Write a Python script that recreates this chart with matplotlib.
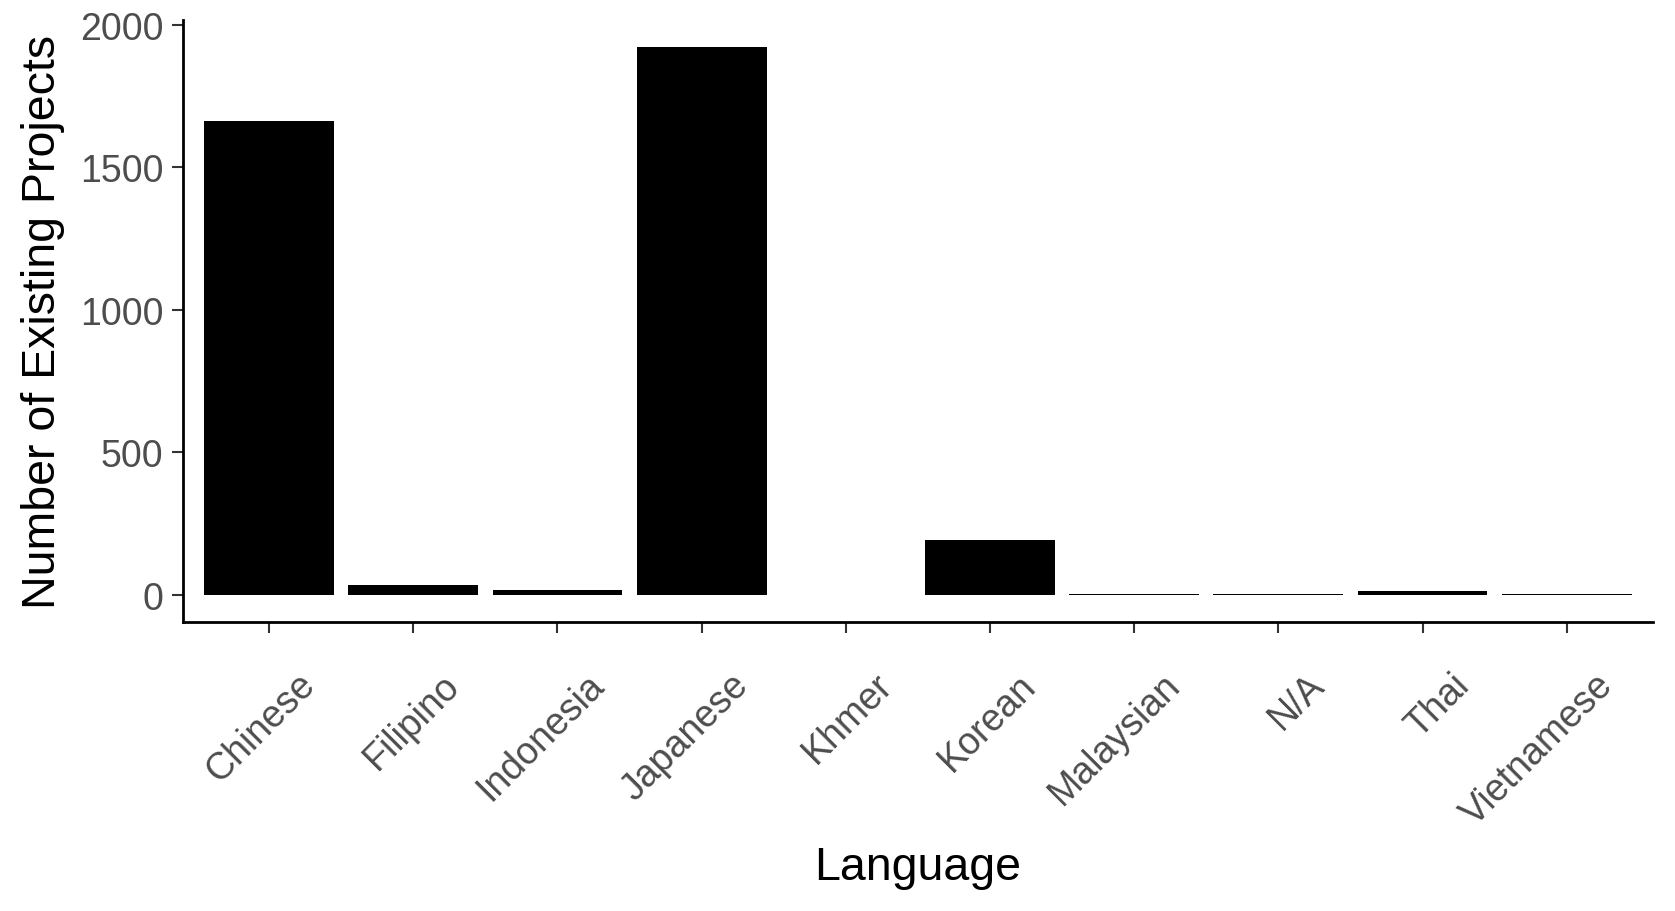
import numpy as np
import matplotlib.pyplot as plt
from matplotlib.transforms import ScaledTranslation

plt.rcParams['font.family'] = ['Liberation Sans', 'DejaVu Sans']

languages = ["Chinese", "Filipino", "Indonesia", "Japanese", "Khmer",
             "Korean", "Malaysian", "N/A", "Thai", "Vietnamese"]
projects = [1664, 35, 17, 1922, 0, 193, 3, 3, 13, 3]

fig = plt.figure(figsize=(16.75, 9.12), dpi=100)
ax = fig.add_axes([0.109, 0.317, 0.878, 0.66])

x = np.arange(1, len(languages) + 1)
ax.bar(x, projects, width=0.9, color="black")

ax.set_xlim(0.4, len(languages) + 0.6)
ymax = max(projects)
ax.set_ylim(-0.05 * ymax, 2018)
ax.set_yticks([0, 500, 1000, 1500, 2000])
ax.set_xticks(x)

for s in ["top", "right"]:
    ax.spines[s].set_visible(False)
for s in ["left", "bottom"]:
    ax.spines[s].set_linewidth(2)

ax.tick_params(axis="both", length=8, width=1.5, color="#333333",
               labelcolor="#4D4D4D", labelsize=27)
ax.tick_params(axis="x", pad=24)
ax.tick_params(axis="y", pad=6)

ax.set_xticklabels(languages, rotation=45, ha="right", va="top",
                   rotation_mode="anchor")
# ggplot style: rotated labels sit a bit right of the tick
# (must come after tick_params, which resets label transforms)
shift = ScaledTranslation(0.28, 0, fig.dpi_scale_trans)
for lab in ax.get_xticklabels():
    lab.set_transform(lab.get_transform() + shift)

ax.set_xlabel("Language", fontsize=33.5, va="center")
ax.set_ylabel("Number of Existing Projects", fontsize=33.5, va="center")
ax.xaxis.set_label_coords(0.5, -0.407)
ax.yaxis.set_label_coords(-0.095, 0.5)

fig.savefig("out.png", dpi=100)
